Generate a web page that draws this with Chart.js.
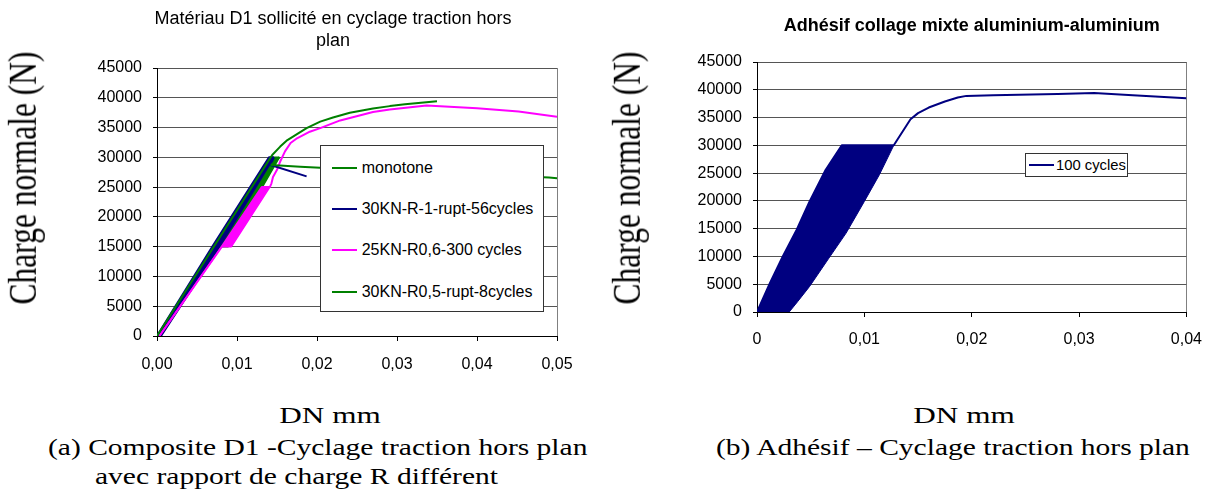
<!DOCTYPE html>
<html>
<head>
<meta charset="utf-8">
<script src="https://cdn.jsdelivr.net/npm/chart.js@4.4.0/dist/chart.umd.min.js"></script>
<style>
  html, body { margin: 0; padding: 0; background: #fff; }
  #page { position: relative; width: 1215px; height: 497px; overflow: hidden; background: #fff; }
  canvas { position: absolute; top: 0; }
  #leftChart { left: 0; }
  #rightChart { left: 600px; }
  .serif { position: absolute; font-family: 'Liberation Serif', 'Times New Roman', serif; color: #000; white-space: nowrap; line-height: 1; }
  .ytitle { font-size: 31.5px; transform: translate(-50%, -50%) rotate(-90deg) scaleY(1.25); }
  .xtitle { font-size: 24px; transform: translate(-50%, -50%) scaleX(1.3); }
  .caption { font-size: 24px; transform-origin: 0 50%; transform: translateY(-50%) scaleX(1.23); }
  .legend { position: absolute; background: #fff; border: 1px solid #333; box-sizing: border-box; font-family: 'Liberation Sans', Arial, sans-serif; color: #000; }
  .legend .txt { position: absolute; white-space: nowrap; line-height: 1; transform: translateY(-50%); }
  .legend .swatch { position: absolute; height: 2px; width: 25px; transform: translateY(-50%); }
</style>
</head>
<body>
<div id="page">
  <canvas id="leftChart" width="600" height="380"></canvas>
  <canvas id="rightChart" width="615" height="380"></canvas>

  <div class="serif ytitle" style="left:22.5px; top:178px;">Charge normale (N)</div>
  <div class="serif ytitle" style="left:627px; top:178px;">Charge normale (N)</div>
  <div class="serif xtitle" style="left:330px; top:415px;">DN mm</div>
  <div class="serif xtitle" style="left:964px; top:415px;">DN mm</div>
  <div class="serif caption" style="left:48px; top:447px;">(a) Composite D1 -Cyclage traction hors plan</div>
  <div class="serif caption" style="left:95px; top:476px;">avec rapport de charge R différent</div>
  <div class="serif caption" style="left:716px; top:447px;">(b) Adhésif – Cyclage traction hors plan</div>

  <div class="legend" id="leftLegend" style="left:320px; top:145px; width:224px; height:167px;"></div>
  <div class="legend" id="rightLegend" style="left:1025px; top:153px; width:103px; height:24px;"></div>
</div>

<script>
// couleurs des séries
const GREEN = '#008000';
const NAVY = '#000080';
const PINK = '#FF00FF';

// libellés des axes
const yLabels = ['0', '5000', '10000', '15000', '20000', '25000', '30000', '35000', '40000', '45000'];
const leftXLabels = ['0,00', '0,01', '0,02', '0,03', '0,04', '0,05'];
const rightXLabels = ['0', '0,01', '0,02', '0,03', '0,04'];

// légendes
const leftLegendLabels = ['monotone', '30KN-R-1-rupt-56cycles', '25KN-R0,6-300 cycles', '30KN-R0,5-rupt-8cycles'];
const leftLegendColors = [GREEN, NAVY, PINK, GREEN];
const rightLegendLabels = ['100 cycles'];
const rightLegendColors = [NAVY];

// (a) monotone
const monotoneX = [0, 0.0144, 0.0154, 0.0163, 0.0175, 0.0187, 0.0204, 0.0220, 0.0241, 0.0270, 0.0291, 0.0310, 0.0330, 0.0350];
const monotoneY = [0, 30400, 31800, 32900, 33900, 34900, 36000, 36700, 37500, 38200, 38600, 38900, 39150, 39400];

// (a) 30KN R-1 : bande des cycles (bord gauche / bord droit) puis rupture
const r1UpperX = [0, 0.0069, 0.0140, 0.0146];
const r1UpperY = [0, 15000, 30000, 30000];
const r1LowerX = [0, 0.0005, 0.0078, 0.0146];
const r1LowerY = [0, 0, 15000, 30000];
const r1TailX = [0.0146, 0.0142, 0.0187];
const r1TailY = [30000, 28700, 26800];

// (a) 25KN R0,6 : chargement, bande 15000-25000, puis courbe jusqu'à 0,05
const r06UpperX = [0.0003, 0.0081, 0.0131, 0.0141, 0.0143, 0.0145, 0.0150, 0.0154, 0.0160, 0.0167, 0.0175, 0.0191, 0.0204, 0.0229, 0.0270, 0.0291, 0.0337, 0.0400, 0.0452, 0.0500];
const r06UpperY = [0, 15000, 25000, 25000, 25600, 26700, 27900, 29300, 31000, 32400, 33200, 34300, 34900, 36200, 37600, 38050, 38700, 38250, 37700, 36800];
const r06LowerX = [0.0003, 0.0081, 0.0093, 0.0141];
const r06LowerY = [0, 15000, 15000, 25000];

// (a) 30KN R0,5 : bande 15000-30000 puis rupture
const r05UpperX = [0.0002, 0.0079, 0.0143, 0.0153];
const r05UpperY = [0, 15000, 30000, 30000];
const r05LowerX = [0.0002, 0.0079, 0.0089, 0.0153];
const r05LowerY = [0, 15000, 15000, 30000];
const r05TailX = [0.0153, 0.0143, 0.0179, 0.0204, 0.0490, 0.0500];
const r05TailY = [30000, 28700, 28430, 28260, 26600, 26500];

// (b) 100 cycles : contour de la bande puis courbe finale
const c100UpperX = [0, 0.0012, 0.0024, 0.0037, 0.0049, 0.0064, 0.0079, 0.01274, 0.0143, 0.0150, 0.0160, 0.0175, 0.0187, 0.0195, 0.0220, 0.0280, 0.0314, 0.0350, 0.0400];
const c100UpperY = [0, 5200, 10000, 14800, 19900, 25600, 30000, 30000, 34700, 35800, 36800, 37900, 38600, 38900, 39000, 39250, 39420, 39000, 38460];
const c100LowerX = [0, 0.0030, 0.0038, 0.0049, 0.0067, 0.0083, 0.0100, 0.0114, 0.01274];
const c100LowerY = [0, 0, 1900, 4600, 9700, 14200, 19900, 24700, 30000];

Chart.defaults.font.family = "'Liberation Sans', Arial, sans-serif";
Chart.defaults.color = '#000';

// décale le bloc titre (le titre Excel n'est pas centré sur la zone de tracé)
const titleShift = {
    id: 'titleShift',
    afterLayout(chart, args, opts) {
        if (opts && opts.left !== undefined && chart.titleBlock) {
            chart.titleBlock.left = opts.left;
        }
    }
};

function pts(xs, ys) {
    return xs.map((x, i) => ({ x: x, y: ys[i] }));
}

function serie(xs, ys, color, width, order, fill) {
    return {
        data: pts(xs, ys),
        borderColor: color,
        backgroundColor: color,
        borderWidth: width,
        pointRadius: 0,
        order: order,
        fill: fill || false
    };
}

function makeOptions(o) {
    return {
        responsive: false,
        animation: false,
        events: [],
        devicePixelRatio: 1,
        layout: { padding: o.padding },
        plugins: {
            legend: { display: false },
            tooltip: { enabled: false },
            titleShift: { left: o.titleLeft },
            title: {
                display: true,
                text: o.title,
                fullSize: o.fullSize,
                color: '#000',
                font: o.titleFont,
                padding: o.titlePadding
            }
        },
        elements: { line: { tension: 0, borderJoinStyle: 'round' } },
        scales: {
            x: {
                type: 'linear',
                min: 0,
                max: o.xMax,
                afterFit: s => { s.height = o.xHeight; },
                ticks: {
                    stepSize: 0.01,
                    padding: o.xPad,
                    autoSkip: false,
                    maxRotation: 0,
                    color: '#000',
                    font: { size: 16 },
                    callback: (v, i) => o.xLabels[i]
                },
                grid: {
                    color: c => c.index === o.xLabels.length - 1 ? '#808080' : 'rgba(0,0,0,0)',
                    tickColor: '#000',
                    tickLength: 5
                },
                border: { color: '#000' }
            },
            y: {
                min: 0,
                max: 45000,
                afterFit: s => { s.width = o.yWidth; },
                ticks: {
                    stepSize: 5000,
                    padding: 11,
                    color: '#000',
                    font: { size: 16 },
                    callback: (v, i) => yLabels[i]
                },
                grid: { color: '#555', tickColor: '#000', tickLength: 4 },
                border: { color: '#000' }
            }
        }
    };
}

// graphique (a)
new Chart(document.getElementById('leftChart'), {
    type: 'line',
    data: {
        datasets: [
            serie(r05UpperX, r05UpperY, GREEN, 1.5, 4),
            serie(r05LowerX, r05LowerY, GREEN, 1.5, 4, '-1'),
            serie(r1UpperX, r1UpperY, NAVY, 2, 3),
            serie(r1LowerX, r1LowerY, NAVY, 2, 3, '-1'),
            serie(r06UpperX, r06UpperY, PINK, 2, 2),
            serie(r06LowerX, r06LowerY, PINK, 1.5, 2, '-1'),
            serie(monotoneX, monotoneY, GREEN, 2, 0),
            serie(r05TailX, r05TailY, GREEN, 2, 1),
            serie(r1TailX, r1TailY, NAVY, 2, 1)
        ]
    },
    options: makeOptions({
        title: ['Matériau D1 sollicité en cyclage traction hors', 'plan'],
        fullSize: true,
        titleLeft: 109,
        titleFont: { size: 18, weight: 'normal', lineHeight: '21.6px' },
        titlePadding: { top: 8.7, bottom: 16.1 },
        padding: { left: 0, right: 43, top: 0, bottom: 0 },
        yWidth: 157,
        xHeight: 44,
        xPad: 14,
        xMax: 0.05,
        xLabels: leftXLabels
    }),
    plugins: [titleShift]
});

// graphique (b)
new Chart(document.getElementById('rightChart'), {
    type: 'line',
    data: {
        datasets: [
            serie(c100UpperX, c100UpperY, NAVY, 2, 0),
            serie(c100LowerX, c100LowerY, NAVY, 1, 0, '-1')
        ]
    },
    options: makeOptions({
        title: 'Adhésif collage mixte aluminium-aluminium',
        fullSize: false,
        titleFont: { size: 18, weight: 'bold', lineHeight: 1 },
        titlePadding: { top: 17, bottom: 27 },
        padding: { left: 0, right: 25, top: 0, bottom: 0 },
        yWidth: 157,
        xHeight: 68,
        xPad: 13,
        xMax: 0.04,
        xLabels: rightXLabels
    })
});

// légendes HTML (fond blanc qui masque la courbe, comme dans Excel)
function buildLegend(id, labels, colors, rows, swatchLeft, textLeft, fontSize) {
    const box = document.getElementById(id);
    labels.forEach((lab, i) => {
        const sw = document.createElement('div');
        sw.className = 'swatch';
        sw.style.left = swatchLeft + 'px';
        sw.style.top = rows[i] + 'px';
        sw.style.background = colors[i];
        box.appendChild(sw);
        const t = document.createElement('div');
        t.className = 'txt';
        t.style.left = textLeft + 'px';
        t.style.top = rows[i] + 'px';
        t.style.fontSize = fontSize + 'px';
        t.textContent = lab;
        box.appendChild(t);
    });
}
buildLegend('leftLegend', leftLegendLabels, leftLegendColors, [22.3, 63.3, 104, 145.7], 10.7, 40.7, 16);
buildLegend('rightLegend', rightLegendLabels, rightLegendColors, [11], 3, 30, 14.8);
</script>
</body>
</html>
